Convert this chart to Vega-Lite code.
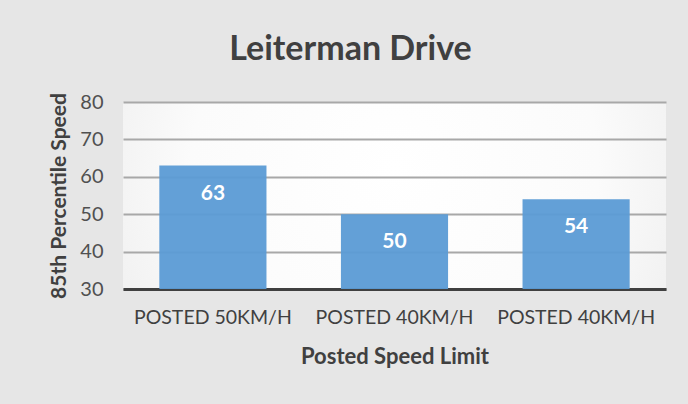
{
  "$schema": "https://vega.github.io/schema/vega-lite/v6.json",
  "autosize": "none",
  "width": 543,
  "height": 187,
  "padding": {"left": 123, "top": 102, "right": 22, "bottom": 115},
  "background": "#e6e6e6",
  "title": {
    "text": "Leiterman Drive",
    "font": "Lato",
    "fontSize": 34,
    "fontWeight": "bold",
    "color": "#404040",
    "anchor": "middle",
    "dx": -44,
    "offset": 25
  },
  "data": {
    "values": [
      {"site": "A", "label": "POSTED 50KM/H", "speed": 63},
      {"site": "B", "label": "POSTED 40KM/H", "speed": 50},
      {"site": "C", "label": "POSTED 40KM/H", "speed": 54}
    ]
  },
  "encoding": {
    "x": {
      "field": "site",
      "type": "nominal",
      "sort": ["A", "B", "C"],
      "scale": {"paddingInner": 0.41, "paddingOuter": 0.2},
      "axis": {
        "title": "Posted Speed Limit",
        "labelExpr": "datum.value == 'A' ? 'POSTED 50KM/H' : 'POSTED 40KM/H'",
        "labelAngle": 0,
        "labelFont": "Lato",
        "labelFontSize": 19.5,
        "labelColor": "#404040",
        "labelPadding": 19,
        "labelOverlap": false,
        "ticks": false,
        "domainColor": "#404040",
        "domainWidth": 3,
        "titleFont": "Lato",
        "titleFontSize": 22,
        "titleFontWeight": "bold",
        "titleColor": "#404040",
        "titlePadding": 20
      }
    },
    "y": {
      "field": "speed",
      "type": "quantitative",
      "scale": {"domain": [30, 80], "nice": false, "zero": false},
      "axis": {
        "title": "85th Percentile Speed",
        "values": [30, 40, 50, 60, 70, 80],
        "labelFont": "Lato",
        "labelFontSize": 20,
        "labelColor": "#505050",
        "labelPadding": 20,
        "labelOverlap": false,
        "ticks": false,
        "domain": false,
        "grid": true,
        "gridColor": "#a8a8a8",
        "gridWidth": 2,
        "titleFont": "Lato",
        "titleFontSize": 21,
        "titleFontWeight": "bold",
        "titleColor": "#404040",
        "titlePadding": 10
      }
    }
  },
  "layer": [
    {
      "mark": {"type": "bar", "color": "#5b9bd5", "opacity": 0.95},
      "encoding": {
        "y2": {"datum": 30}
      }
    },
    {
      "mark": {
        "type": "text",
        "color": "white",
        "font": "Lato",
        "fontSize": 21,
        "fontWeight": "bold",
        "baseline": "middle",
        "dy": 28
      },
      "encoding": {
        "text": {"field": "speed", "type": "quantitative"}
      }
    }
  ],
  "config": {
    "view": {
      "stroke": null,
      "fill": {
        "gradient": "radial",
        "x1": 0.5, "y1": 0.45, "r1": 0,
        "x2": 0.5, "y2": 0.45, "r2": 0.75,
        "stops": [
          {"offset": 0, "color": "#ffffff"},
          {"offset": 0.5, "color": "#fbfbfb"},
          {"offset": 1, "color": "#e6e6e6"}
        ]
      }
    }
  }
}
